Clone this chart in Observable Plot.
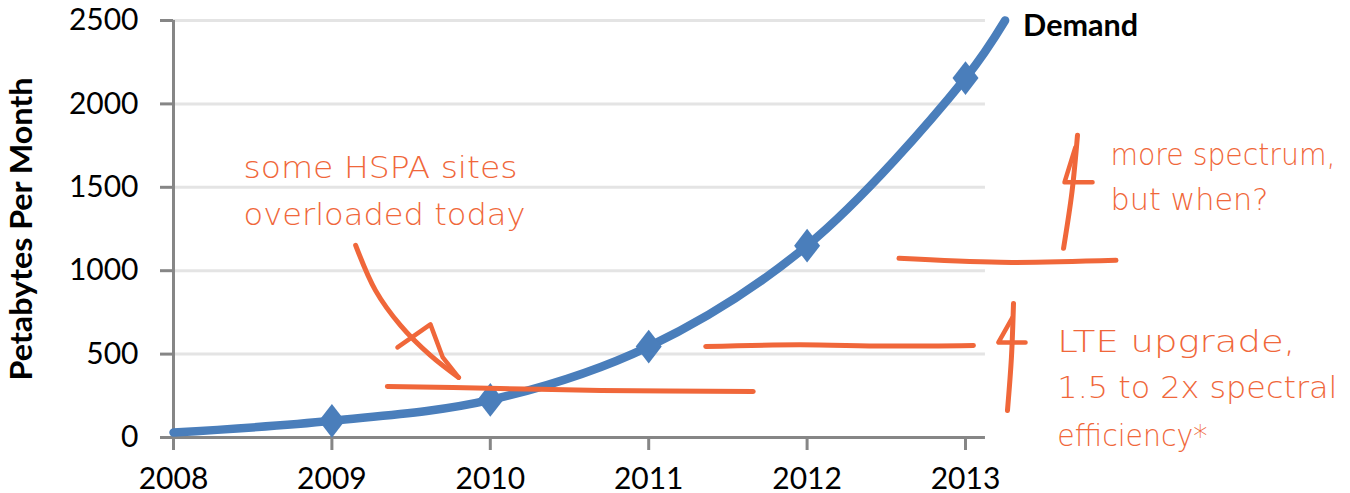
<!DOCTYPE html>
<html>
<head>
<meta charset="utf-8">
<script src="https://cdn.jsdelivr.net/npm/d3@7"></script>
<script src="https://cdn.jsdelivr.net/npm/@observablehq/plot@0.6"></script>
<style>
  html, body { margin: 0; padding: 0; background: #fff; }
</style>
</head>
<body>
<div id="chart"></div>
<script>
// ---- data ----
const years = [2008, 2009, 2010, 2011, 2012, 2013, 2013.25];
const demand = [30, 100, 225, 545, 1150, 2155, 2500];
const markerYears = [2009, 2010, 2011, 2012, 2013];
const markerValues = [100, 225, 545, 1150, 2155];
const xTicks = [2008, 2009, 2010, 2011, 2012, 2013];
const yTicks = [0, 500, 1000, 1500, 2000, 2500];
const seriesLabel = "Demand";
const yTitle = "Petabytes Per Month";

// hand-drawn strokes, smooth (data units: year, petabytes)
const curveId = ["hspa","hspa","hspa","hspa",
                 "lte","lte","lte","lte",
                 "spec","spec","spec",
                 "arrow1","arrow1","arrow1","arrow1","arrow1",
                 "arrow2","arrow2","arrow2",
                 "arrow3","arrow3","arrow3"];
const curveX = [2009.35, 2010.06, 2010.70, 2011.66,
                2011.36, 2011.95, 2012.50, 2013.05,
                2012.58, 2013.22, 2013.95,
                2009.15, 2009.275, 2009.433, 2009.622, 2009.80,
                2013.707, 2013.672, 2013.619,
                2013.303, 2013.290, 2013.265];
const curveY = [306, 294, 282, 276,
                546, 556, 548, 552,
                1074, 1050, 1062,
                1152, 882, 672, 492, 360,
                1812, 1470, 1134,
                804, 480, 162];

// hand-drawn arrow heads, straight segments
const headId = ["head1","head1","head1","head1",
                "hook2","hook2","hook2",
                "hook3","hook3","hook3"];
const headX = [2009.414, 2009.622, 2009.700, 2009.80,
               2013.694, 2013.625, 2013.802,
               2013.297, 2013.208, 2013.379];
const headY = [540, 678, 480, 360,
               1740, 1530, 1530,
               720, 570, 570];

const noteText = ["some HSPA sites", "overloaded today", "more spectrum,", "but when?",
                  "LTE upgrade,", "1.5 to 2x spectral", "efficiency*"];
const noteX = [2008.442, 2008.442, 2013.915, 2013.915, 2013.580, 2013.580, 2013.580];
const noteY = [1554, 1272, 1632, 1362, 510, 234, -48];

// ---- build tables ----
const demandData = years.map((x, i) => ({x, y: demand[i]}));
const markers = markerYears.map((x, i) => ({x, y: markerValues[i]}));
const curves = curveId.map((id, i) => ({id, x: curveX[i], y: curveY[i]}));
const heads = headId.map((id, i) => ({id, x: headX[i], y: headY[i]}));
const notes = noteText.map((t, i) => ({t, x: noteX[i], y: noteY[i]}));

// rendered text widths (styling)
const textWidths = {
  "Petabytes Per Month": 303, "Demand": 115,
  "some HSPA sites": 274, "overloaded today": 282, "more spectrum,": 225, "but when?": 158,
  "LTE upgrade,": 238, "1.5 to 2x spectral": 280, "efficiency*": 150
};

const blue = "#4a7ebb";
const orange = "#f0673a";
const axisGray = "#868686";

const diamond = {
  draw(ctx, size) {
    const r = Math.sqrt(size / Math.PI);
    ctx.moveTo(0, -1.3 * r);
    ctx.lineTo(r, 0);
    ctx.lineTo(0, 1.3 * r);
    ctx.lineTo(-r, 0);
    ctx.closePath();
  }
};

const chart = Plot.plot({
  width: 1350,
  height: 493,
  marginLeft: 173,
  marginRight: 385,
  marginTop: 20,
  marginBottom: 56,
  style: {fontFamily: "Lato, 'Open Sans', sans-serif", background: "#fff", overflow: "visible"},
  x: {domain: [2008, 2013]},
  y: {domain: [0, 2500]},
  marks: [
    Plot.ruleY(yTicks.filter(d => d > 0), {x1: 2008, x2: 2013.126, stroke: "#e4e4e4", strokeWidth: 3}),
    Plot.ruleX([2008], {y1: 0, y2: 2500, stroke: axisGray, strokeWidth: 3}),
    Plot.ruleY([0], {x1: 2008, x2: 2013.126, stroke: axisGray, strokeWidth: 3}),
    Plot.axisY({ticks: yTicks, tickSize: 13, tickPadding: 22, stroke: axisGray, strokeWidth: 3,
      fontSize: 30, fill: "#000", label: null, tickFormat: d => String(d)}),
    Plot.axisX({ticks: xTicks, tickSize: 13, tickPadding: 17, stroke: axisGray, strokeWidth: 3,
      fontSize: 30, fill: "#000", label: null, tickFormat: d => String(d)}),
    Plot.text([yTitle], {frameAnchor: "left", textAnchor: "middle", lineAnchor: "bottom", dx: -142,
      rotate: -90, fontSize: 31, fontWeight: "bold", fill: "#000"}),
    Plot.line(demandData, {x: "x", y: "y", stroke: blue, strokeWidth: 8.5, curve: "catmull-rom"}),
    Plot.dot(markers, {x: "x", y: "y", r: 13, symbol: diamond, fill: blue, stroke: "none"}),
    Plot.text([demandData[demandData.length - 1]], {x: "x", y: "y", text: () => seriesLabel, dx: 18, dy: 15,
      textAnchor: "start", lineAnchor: "bottom", fontSize: 30, fontWeight: "bold", fill: "#000"}),
    Plot.line(curves, {x: "x", y: "y", z: "id", stroke: orange, strokeWidth: 5, curve: "catmull-rom",
      strokeLinecap: "round", strokeLinejoin: "round"}),
    Plot.line(heads, {x: "x", y: "y", z: "id", stroke: orange, strokeWidth: 4.5, curve: "linear",
      strokeLinecap: "round", strokeLinejoin: "round"}),
    Plot.text(notes, {x: "x", y: "y", text: "t", textAnchor: "start", lineAnchor: "bottom", fill: orange,
      fontSize: 30, fontFamily: "'DejaVu Sans'", fontWeight: 200})
  ]
});
d3.select(chart).selectAll("text").each(function() {
  const w = textWidths[this.textContent];
  if (w) d3.select(this).attr("textLength", w).attr("lengthAdjust", "spacingAndGlyphs");
});
document.getElementById("chart").appendChild(chart);
</script>
</body>
</html>
